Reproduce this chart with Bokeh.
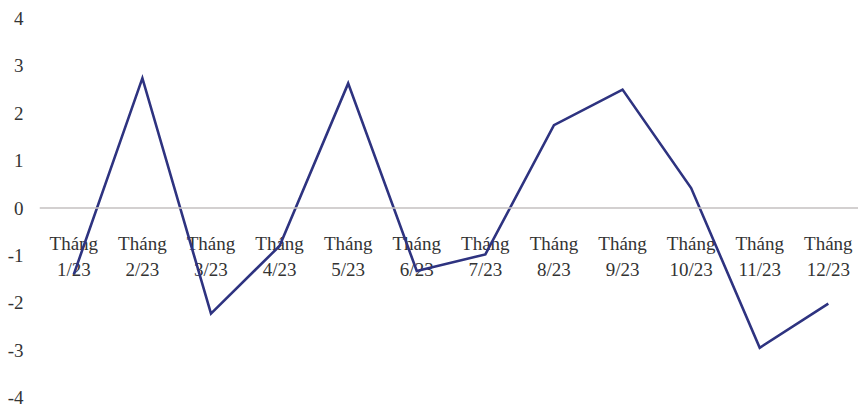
from bokeh.plotting import figure
from bokeh.models import Range1d, FixedTicker, Span, ColumnDataSource
from bokeh.core.properties import value
from bokeh.embed import file_html
from bokeh.resources import INLINE

# Monthly series, 2023
months = ["1/23", "2/23", "3/23", "4/23", "5/23", "6/23",
          "7/23", "8/23", "9/23", "10/23", "11/23", "12/23"]
month_word = "Tháng"
values = [-1.40, 2.74, -2.23, -0.80, 2.63, -1.33,
          -0.98, 1.75, 2.50, 0.42, -2.95, -2.02]
y_ticks = [-4, -3, -2, -1, 0, 1, 2, 3, 4]

positions = list(range(1, len(months) + 1))

FONT = "Liberation Serif"
TEXT_COLOR = "#333333"
LINE_COLOR = "#2e3380"

p = figure(
    width=858, height=407,
    output_backend="svg", toolbar_location=None,
    x_range=Range1d(0.5, 12.44), y_range=Range1d(-4, 4),
    min_border_left=39, min_border_right=0,
    min_border_top=18, min_border_bottom=10,
)
p.outline_line_color = None
p.background_fill_color = "white"
p.border_fill_color = "white"
p.xgrid.visible = False
p.ygrid.visible = False
p.xaxis.visible = False

yax = p.yaxis[0]
yax.ticker = FixedTicker(ticks=y_ticks)
# plain hyphen for negative tick labels
yax.major_label_overrides = {t: str(t) for t in y_ticks}
yax.axis_line_color = None
yax.major_tick_line_color = None
yax.minor_tick_line_color = None
yax.major_tick_out = 0
yax.major_tick_in = 0
yax.major_label_standoff = 16
yax.major_label_text_font = FONT
yax.major_label_text_font_size = "19px"
yax.major_label_text_color = TEXT_COLOR

# zero baseline
p.add_layout(Span(location=0, dimension="width", line_color="#c4c0c0", line_width=1.6))

# two-line category labels hanging below the zero line
src = ColumnDataSource(dict(
    x=positions,
    y=[0] * len(positions),
    word=[month_word] * len(positions),
    month=months,
))
p.text(x="x", y="y", text="word", source=src, y_offset=35,
       text_align="center", text_baseline="alphabetic",
       text_font=value(FONT), text_font_size="19px", text_color=TEXT_COLOR)
p.text(x="x", y="y", text="month", source=src, y_offset=61,
       text_align="center", text_baseline="alphabetic",
       text_font=value(FONT), text_font_size="19px", text_color=TEXT_COLOR)

p.line(positions, values, line_color=LINE_COLOR, line_width=2.6, line_join="miter")

open("out.html", "w").write(file_html(p, INLINE))
